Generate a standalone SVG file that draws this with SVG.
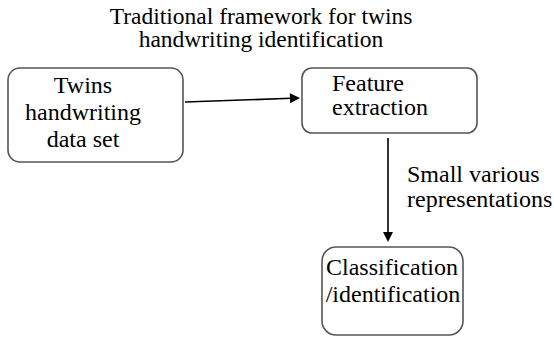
<svg xmlns="http://www.w3.org/2000/svg" width="554" height="337" viewBox="0 0 554 337">
<rect width="554" height="337" fill="#fff"/>
<g id="title">
<text x="261" y="24" text-anchor="middle" font-family="Times New Roman, Liberation Serif, serif" font-size="23.5" fill="#000">Traditional framework for twins</text>
<text x="261" y="47" text-anchor="middle" font-family="Times New Roman, Liberation Serif, serif" font-size="23.5" fill="#000">handwriting identification</text>
</g>
<g id="connectors" stroke="#000" stroke-width="1.6">
<line x1="185" y1="102" x2="291" y2="98.3"/>
<polygon points="300,98 290.2,103.3 289.8,93.3" fill="#000" stroke="none"/>
<line x1="388" y1="138" x2="388" y2="233"/>
<polygon points="388,242 383,232 393,232" fill="#000" stroke="none"/>
<text x="407" y="182" font-family="Times New Roman, Liberation Serif, serif" font-size="24" fill="#000" stroke="none">Small various</text>
<text x="407" y="207" font-family="Times New Roman, Liberation Serif, serif" font-size="24" fill="#000" stroke="none">representations</text>
</g>
<g id="n1">
<rect x="8" y="68" width="175" height="94" rx="12" fill="#fff" stroke="#555" stroke-width="1.6"/>
<text x="83" y="93" text-anchor="middle" font-family="Times New Roman, Liberation Serif, serif" font-size="24" fill="#000">Twins</text>
<text x="83" y="120" text-anchor="middle" font-family="Times New Roman, Liberation Serif, serif" font-size="24" fill="#000">handwriting</text>
<text x="83" y="147" text-anchor="middle" font-family="Times New Roman, Liberation Serif, serif" font-size="24" fill="#000">data set</text>
</g>
<g id="n2">
<rect x="302" y="68" width="175" height="65" rx="10" fill="#fff" stroke="#555" stroke-width="1.6"/>
<text x="332" y="91" font-family="Times New Roman, Liberation Serif, serif" font-size="24" fill="#000">Feature</text>
<text x="332" y="115" font-family="Times New Roman, Liberation Serif, serif" font-size="24" fill="#000">extraction</text>
</g>
<g id="n3">
<rect x="322" y="247" width="141" height="88" rx="14" fill="#fff" stroke="#555" stroke-width="1.6"/>
<text x="392" y="275" text-anchor="middle" font-family="Times New Roman, Liberation Serif, serif" font-size="24" fill="#000">Classification</text>
<text x="393" y="302" text-anchor="middle" font-family="Times New Roman, Liberation Serif, serif" font-size="24" fill="#000">/identification</text>
</g>
</svg>
